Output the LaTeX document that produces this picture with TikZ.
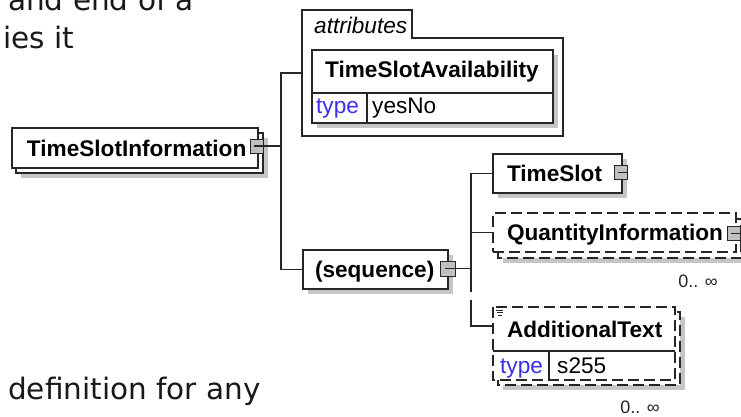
\documentclass[tikz,border=0pt]{standalone}
\usepackage{fontspec}
\setmainfont{Liberation Sans}
\newfontfamily\dejavu{DejaVu Sans}
\usetikzlibrary{shadows}
\definecolor{ln}{HTML}{262626}
\definecolor{shadowgray}{HTML}{C6C6C6}
\definecolor{icn}{HTML}{C0C0C0}
\definecolor{typeblue}{HTML}{3A2EF0}
\newcommand{\bxfont}{\fontsize{22.6}{26}\selectfont\bfseries}
\newcommand{\smfont}{\fontsize{22.6}{26}\selectfont}
\newcommand{\bigtxt}{\dejavu\fontsize{29.5}{34}\selectfont}
\tikzset{
 shd/.style={drop shadow={shadow xshift=5pt, shadow yshift=-5pt, fill=shadowgray, opacity=1}},
 elbox/.style={draw=ln, line width=1.2pt, fill=white, inner xsep=14pt, inner ysep=0pt,
   text height=16pt, text depth=0pt, font=\bxfont, minimum height=39pt},
 optl/.style={dash pattern=on 11pt off 5pt},
 icon/.style={draw=ln, line width=1pt, fill=icn, minimum width=13pt, minimum height=14pt, inner sep=0pt},
 conn/.style={draw=ln, line width=1.2pt},
 frame/.style={draw=ln, line width=1.2pt},
 lbl/.style={inner sep=0pt, anchor=base west, font=\smfont},
 bigl/.style={inner sep=0pt, anchor=base west, font=\bigtxt, text=black!90},
 occ/.style={inner sep=0pt, anchor=base east, font=\fontsize{18}{20}\selectfont, text=black!85},
}
\begin{document}
\begin{tikzpicture}[x=1pt,y=-1pt]
\useasboundingbox (0,0) rectangle (741,416);
\clip (0,0) rectangle (741,416);
\fill[white] (0,0) rectangle (741,416);

% surrounding text
\node[bigl] (t1) at (8,10) {and end of a};
\node[bigl] (t2) at (3,48) {ies it};
\node[bigl] (t3) at (8,399) {definition for any};

% attributes frame
\draw[frame] (302,136) -- (302,10) -- (412,10) -- (412,38) -- (563,38) -- (563,136) -- cycle;
\node[lbl, font=\smfont\itshape] (attrlbl) at (314,33) {attributes};
\node[inner sep=0pt, minimum width=261pt, minimum height=126pt] (attr) at (432.5,73) {};

% TimeSlotAvailability
\node[draw=ln, line width=1.2pt, fill=white, shd, inner sep=0pt, minimum width=241pt, minimum height=73pt] (tsa) at (432.5,86.5) {};
\draw[frame] (312,93) -- (553,93);
\draw[frame] (367,93) -- (367,123);
\node[lbl, font=\bxfont] (tsatitle) at (325,77) {TimeSlotAvailability};
\node[lbl, text=typeblue] (tsatype) at (316,113) {type};
\node[lbl] (tsaval) at (372,113) {yesNo};

% TimeSlotInformation
\filldraw[frame, fill=white, shd] (16,133) rectangle (263,173);
\node[elbox, minimum width=246pt, minimum height=40pt, inner xsep=15pt] (tsi) at (135,148) {\makebox[216pt][l]{TimeSlotInformation}};
\node[icon] (tsiic) at (257,146) {};
\draw[conn] ([xshift=-3pt]tsiic.center) -- (tsiic.east);

% sequence
\node[elbox, shd, minimum width=145pt, inner xsep=12pt] (seq) at (375.5,269.5) {\makebox[121pt][l]{(sequence)}};
\node[icon, minimum width=15pt, minimum height=15pt] (seqic) at (447.5,268.5) {};
\draw[conn] ([xshift=-3pt]seqic.center) -- (seqic.east);

% connectors from TimeSlotInformation
\coordinate (j1) at (281,146);
\draw[conn] (tsiic.east) -- (j1);
\draw[conn] (attr.west) -| (j1);
\draw[conn] (j1) |- (seq.west);

% TimeSlot
\node[elbox, shd, minimum width=129pt] (ts) at (557.5,173.5) {\makebox[101pt][l]{TimeSlot}};
\node[icon] (tsic) at (620.5,172.5) {};
\draw[conn] ([xshift=-3pt]tsic.center) -- (tsic.east);

% QuantityInformation
\filldraw[frame, optl, fill=white, shd] (498,219) rectangle (741,258);
\node[elbox, optl, minimum width=243pt] (qi) at (614.5,232.5) {\makebox[215pt][l]{QuantityInformation}};
\node[icon] (qiic) at (734,233.5) {};
\draw[conn] ([xshift=-3pt]qiic.center) -- (qiic.east);
\node[occ] (qiocc) at (718,287) {0.. ∞};

% AdditionalText
\filldraw[frame, optl, fill=white, shd] (498,312) rectangle (680,385);
\filldraw[frame, optl, fill=white] (493,307) rectangle (675,380);
\node[elbox, draw=none, fill=none, minimum width=182pt, minimum height=44pt] (at) at (584,329) {\makebox[154pt][l]{AdditionalText}};
\draw[frame] (493,351) -- (675,351);
\draw[frame] (549,351) -- (549,380);
\node[lbl, text=typeblue] (attype) at (500,373) {type};
\node[lbl] (atval) at (557,373) {s255};
\draw[ln, line width=1pt] (496,310.5) -- (503,310.5) (497,312.8) -- (503,312.8) (498,315) -- (502,315);
\node[occ] (atocc) at (660,413) {0.. ∞};

% connectors from sequence
\coordinate (j2) at (471,268.5);
\draw[conn] (seqic.east) -- (j2);
\draw[conn] (ts.west) -| (j2);
\draw[conn] (qi.west) -| (j2);
\draw[conn, dash pattern=on 23pt off 8pt on 300pt] (j2) |- ([yshift=3pt]at.west);
\end{tikzpicture}
\end{document}
